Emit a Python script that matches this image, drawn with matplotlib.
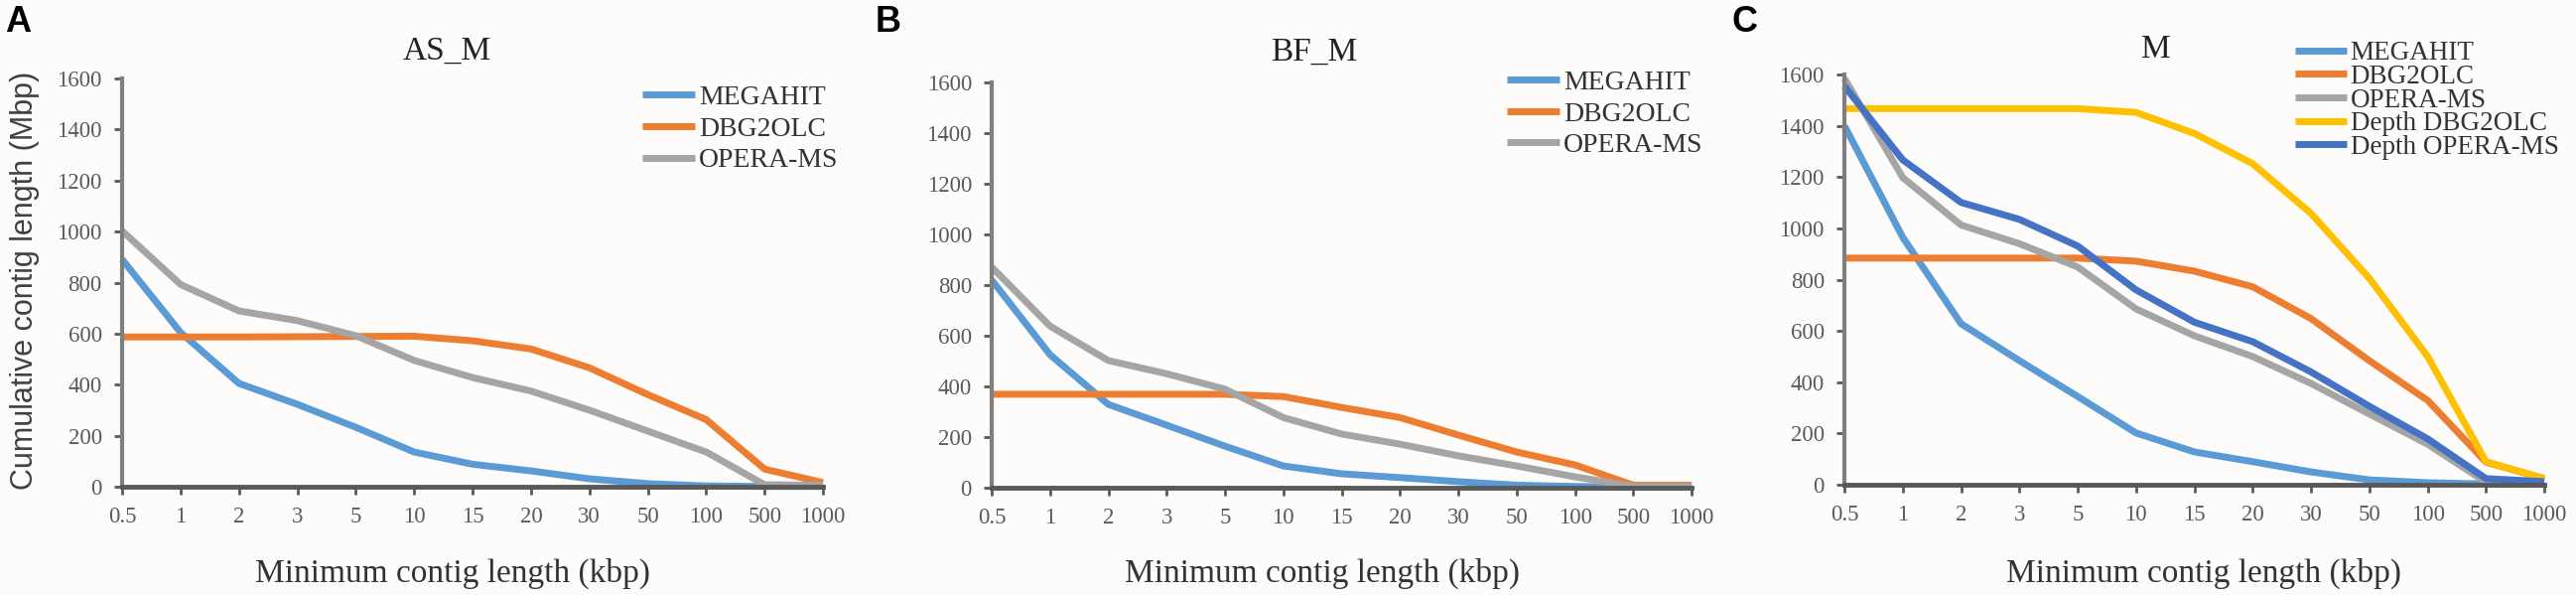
import matplotlib
matplotlib.use("Agg")
import matplotlib.pyplot as plt

# x categories (kbp), evenly spaced on the axis
min_len = ["0.5", "1", "2", "3", "5", "10", "15", "20", "30", "50", "100", "500", "1000"]

# panel A: AS_M
as_megahit = [891, 605, 405, 323, 233, 136, 88, 62, 31, 12, 3, 1, 1]
as_dbg2olc = [587, 587, 587, 588, 589, 590, 572, 540, 466, 361, 263, 69, 16]
as_opera = [1003, 793, 689, 651, 592, 495, 428, 375, 300, 218, 136, 8, 5]

# panel B: BF_M
bf_megahit = [820, 525, 329, 247, 164, 86, 55, 40, 24, 10, 5, 2, 2]
bf_dbg2olc = [369, 369, 369, 369, 369, 360, 317, 277, 208, 141, 90, 10, 10]
bf_opera = [871, 638, 502, 450, 389, 277, 212, 172, 126, 86, 43, 5, 5]

# panel C: M
m_megahit = [1400, 965, 628, 484, 344, 202, 128, 90, 50, 19, 8, 3, 3]
m_dbg2olc = [884, 884, 884, 884, 884, 872, 833, 772, 648, 484, 329, 88, 24]
m_opera = [1585, 1198, 1013, 940, 849, 686, 581, 500, 395, 276, 158, 10, 10]
m_depth_dbg2olc = [1467, 1467, 1467, 1467, 1467, 1452, 1370, 1252, 1058, 805, 500, 90, 24]
m_depth_opera = [1555, 1267, 1101, 1035, 931, 760, 634, 558, 440, 306, 179, 24, 12]

colors = {"MEGAHIT": "#5B9BD5", "DBG2OLC": "#ED7D31", "OPERA-MS": "#A5A5A5",
          "Depth DBG2OLC": "#FFC000", "Depth OPERA-MS": "#4472C4"}

panels = [
    dict(letter="A", title="AS_M", rect=[0.0474, 0.182, 0.2721, 0.686],
         series=[("MEGAHIT", as_megahit), ("DBG2OLC", as_dbg2olc), ("OPERA-MS", as_opera)],
         title_xy=(0.463, 1.066), leg_xy=(0.742, 0.876), leg_space=0.22, leg_size=20,
         letter_x=5, xlabel_x=456),
    dict(letter="B", title="BF_M", rect=[0.385, 0.1803, 0.2717, 0.681],
         series=[("MEGAHIT", bf_megahit), ("DBG2OLC", bf_dbg2olc), ("OPERA-MS", bf_opera)],
         title_xy=(0.46, 1.076), leg_xy=(0.736, 0.922), leg_space=0.22, leg_size=20,
         letter_x=882, xlabel_x=1332),
    dict(letter="C", title="M", rect=[0.716, 0.1853, 0.2717, 0.6895],
         series=[("MEGAHIT", m_megahit), ("DBG2OLC", m_dbg2olc), ("OPERA-MS", m_opera),
                 ("Depth DBG2OLC", m_depth_dbg2olc), ("Depth OPERA-MS", m_depth_opera)],
         title_xy=(0.445, 1.06), leg_xy=(0.644, 0.937), leg_space=-0.05, leg_size=19.5,
         letter_x=1744, xlabel_x=2220),
]

W, H = 2595, 599
fig = plt.figure(figsize=(W / 100, H / 100), dpi=100)
fig.patch.set_facecolor("#fdfcfa")
serif = "Liberation Serif"
tick_col = "#595959"

for p in panels:
    ax = fig.add_axes(p["rect"])
    ax.set_facecolor("#fdfcfa")
    xs = list(range(len(min_len)))
    for name, vals in p["series"]:
        ax.plot(xs, vals, color=colors[name], lw=5, label=name,
                solid_joinstyle="round", solid_capstyle="butt", clip_on=False)
    ax.set_xlim(0, len(min_len) - 1)
    ax.set_ylim(0, 1600)
    ax.set_xticks(xs)
    ax.set_xticklabels(min_len)
    ax.set_yticks(range(0, 1601, 200))
    for s in ["top", "right"]:
        ax.spines[s].set_visible(False)
    ax.spines["left"].set_color("#7f7f7f")
    ax.spines["left"].set_linewidth(3)
    ax.spines["bottom"].set_color("#595959")
    ax.spines["bottom"].set_linewidth(3.5)
    ax.tick_params(direction="out", length=5.5, width=2, color="#595959",
                   labelsize=16.5, labelcolor=tick_col, pad=9)
    for lab in ax.get_xticklabels() + ax.get_yticklabels():
        lab.set_family(serif)
    ax.text(p["title_xy"][0], p["title_xy"][1], p["title"], transform=ax.transAxes,
            ha="center", va="center", fontsize=24, family=serif, color="#222222")
    ax.legend(loc="center left", bbox_to_anchor=p["leg_xy"], frameon=False,
              prop={"family": serif, "size": p["leg_size"]}, handlelength=1.9,
              handletextpad=0.15, borderpad=0, borderaxespad=0,
              labelspacing=p["leg_space"], labelcolor="#333333")
    fig.text(p["letter_x"] / W, 1 - 23 / H, p["letter"], fontsize=26,
             fontweight="bold", family="Liberation Sans", va="center", ha="left")
    fig.text(p["xlabel_x"] / W, 1 - 577 / H, "Minimum contig length (kbp)",
             fontsize=24, family=serif, ha="center", va="center", color="#333333")

fig.text(25 / W, 1 - 282 / H, "Cumulative contig length (Mbp)", rotation=90,
         fontsize=22, family="Liberation Sans", ha="center", va="center", color="#404040")

fig.savefig("out.png", dpi=100, facecolor=fig.get_facecolor())
